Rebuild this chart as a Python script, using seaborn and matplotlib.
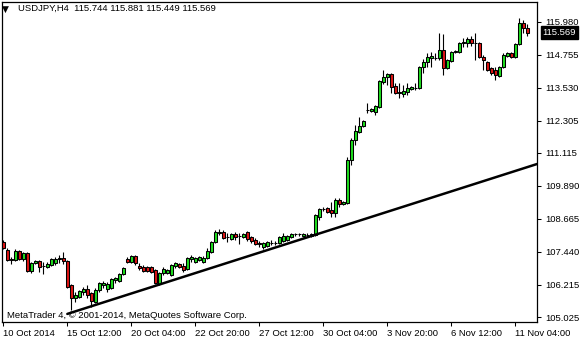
import numpy as np
import pandas as pd
import matplotlib
matplotlib.use("Agg")
import matplotlib.pyplot as plt
import seaborn as sns

symbol = "USDJPY,H4"
opens = [107.81,107.51,107.18,107.14,107.47,107.18,107.40,106.73,107.03,107.10,
         106.92,106.88,106.95,107.03,107.18,107.21,107.10,106.21,105.73,105.77,
         105.95,106.06,105.92,105.58,106.03,106.21,106.06,106.10,106.40,106.36,
         106.62,107.18,107.07,107.29,106.92,106.88,106.88,106.88,106.77,106.25,
         106.66,106.66,106.58,106.92,106.99,106.92,106.81,107.18,107.07,107.14,
         107.07,107.21,107.44,107.81,108.14,108.18,107.99,107.92,108.10,108.03,
         107.99,108.18,107.99,107.88,107.77,107.62,107.66,107.77,107.77,107.77,
         107.84,107.88,107.99,108.10,108.10,108.03,108.07,108.03,108.07,108.73,
         109.03,109.07,108.99,108.88,109.37,109.22,109.25,110.85,111.59,111.89,
         112.11,112.70,112.67,112.63,112.82,113.74,113.93,114.04,113.59,113.37,
         113.30,113.37,113.48,113.52,113.52,114.30,114.49,114.63,114.63,114.63,
         114.93,114.26,114.52,114.86,114.86,115.19,115.19,115.34,115.19,115.19,
         114.67,114.49,114.26,114.19,113.97,114.30,114.71,114.82,114.67,115.15,
         115.93,115.744]
highs = [107.88,107.58,107.25,107.55,107.51,107.44,107.44,107.07,107.14,107.14,
         107.07,107.07,107.21,107.25,107.33,107.44,107.14,106.25,105.95,106.03,
         106.14,106.21,105.95,106.10,106.32,106.36,106.32,106.47,106.51,106.66,
         106.88,107.25,107.33,107.33,107.03,106.95,106.92,106.92,106.81,106.69,
         106.88,106.81,106.99,107.07,107.03,107.03,107.25,107.33,107.25,107.29,
         107.29,107.58,107.84,108.25,108.29,108.25,108.14,108.14,108.18,108.14,
         108.14,108.21,108.03,107.96,107.84,107.81,107.84,107.88,107.84,108.03,
         108.14,108.07,108.14,108.14,108.14,108.14,108.14,108.14,108.85,109.07,
         109.11,109.11,109.29,109.44,109.44,109.33,110.96,111.67,112.15,112.44,
         112.33,112.96,112.78,112.89,113.82,114.19,114.08,114.08,113.71,113.71,
         113.63,113.71,113.59,113.71,114.34,114.60,114.82,114.86,114.82,115.56,
         115.52,114.60,114.89,114.93,115.23,115.38,115.41,115.45,115.56,115.23,
         114.75,114.52,114.30,114.30,114.34,114.82,114.86,114.86,115.19,116.12,
         116.04,115.881]
lows = [107.55,107.10,106.99,107.10,107.14,107.10,106.69,106.66,106.99,106.69,
        106.62,106.84,106.92,106.95,107.03,106.99,106.10,105.28,105.58,105.73,
        105.84,105.73,105.40,105.54,105.95,106.10,105.95,106.06,106.29,106.32,
        106.58,107.03,107.03,106.95,106.77,106.69,106.69,106.66,106.25,106.21,
        106.58,106.62,106.55,106.84,106.84,106.69,106.77,107.07,107.03,107.10,
        107.03,107.18,107.40,107.77,108.07,107.92,107.81,107.88,107.88,107.73,
        107.96,107.84,107.77,107.70,107.62,107.55,107.62,107.70,107.70,107.73,
        107.81,107.84,107.96,108.03,108.03,107.99,107.99,107.99,108.03,108.62,
        108.96,108.88,108.73,108.73,109.11,109.18,109.22,110.66,111.41,111.85,
        112.07,112.59,112.63,112.52,112.78,113.67,113.63,113.34,113.30,113.15,
        113.19,113.26,113.45,113.45,113.48,114.08,114.30,114.30,114.56,114.56,
        114.00,114.23,114.49,114.82,114.82,115.04,115.04,115.08,114.56,114.63,
        114.19,114.15,114.00,113.82,113.93,114.26,114.67,114.63,114.63,115.12,
        115.56,115.449]
closes = [107.58,107.14,107.14,107.47,107.18,107.40,106.73,107.03,107.10,106.88,
          106.92,106.99,107.18,107.18,107.21,107.10,106.14,105.73,105.84,105.99,
          106.06,105.84,105.62,106.03,106.29,106.29,106.25,106.43,106.47,106.62,
          106.84,107.07,107.29,107.03,106.84,106.73,106.73,106.69,106.29,106.66,
          106.81,106.77,106.95,107.03,106.88,106.77,107.21,107.25,107.21,107.25,
          107.21,107.47,107.81,108.18,108.18,107.96,107.99,108.10,107.99,108.03,
          108.10,107.92,107.84,107.73,107.73,107.77,107.81,107.77,107.77,107.99,
          108.03,108.03,108.10,108.10,108.10,108.10,108.07,108.10,108.81,109.03,
          109.03,108.92,108.88,109.37,109.22,109.29,110.85,111.59,111.93,112.11,
          112.30,112.70,112.74,112.85,113.78,113.93,114.04,113.56,113.34,113.34,
          113.41,113.52,113.56,113.52,114.30,114.49,114.67,114.71,114.63,114.93,
          114.26,114.56,114.86,114.89,115.19,115.23,115.34,115.19,115.19,114.67,
          114.56,114.19,114.08,114.00,114.30,114.75,114.82,114.67,115.15,115.93,
          115.75,115.569]

tick_bars = [0, 16, 32, 48, 64, 80, 96, 112, 128]
tick_labels = ["10 Oct 2014", "15 Oct 12:00", "20 Oct 04:00", "22 Oct 20:00",
               "27 Oct 12:00", "30 Oct 04:00", "3 Nov 20:00", "6 Nov 12:00",
               "11 Nov 04:00"]
price_ticks = [115.980, 114.755, 113.530, 112.305, 111.115, 109.890,
               108.665, 107.440, 106.215, 105.025]
trend_bars = [16, 133.4]
trend_prices = [105.14, 110.70]

sns.set_style("white")
plt.rcParams['font.family'] = ['Liberation Sans', 'DejaVu Sans']
plt.rcParams['text.color'] = 'black'

GREEN = '#1fdc1f'
RED = '#dc1414'
FS = 6.8

df = pd.DataFrame(dict(bar=np.arange(len(opens)), open=opens, high=highs,
                       low=lows, close=closes))

fig = plt.figure(figsize=(5.8, 3.4), dpi=100)
ax = fig.add_axes([2/580, 18/340, 535/580, 320/340])

ax.vlines(df.bar, df.low, df.high, color='black', lw=0.8, zorder=2)
body_h = (df.close - df.open).abs().clip(lower=0.004)
bottoms = df[['open', 'close']].min(axis=1)
colors = np.where(df.close > df.open, GREEN,
                  np.where(df.close < df.open, RED, 'black'))
ax.bar(df.bar, body_h, bottom=bottoms, width=0.78, color=colors,
       edgecolor='black', linewidth=0.75, zorder=3)

sns.lineplot(x=trend_bars, y=trend_prices, color='black', lw=1.8, ax=ax,
             zorder=4)

ax.set_xlim(-0.33, 133.4)
ax.set_ylim(104.84, 116.71)
ax.yaxis.tick_right()
ax.set_yticks(price_ticks)
ax.set_yticklabels([f"{v:.3f}" for v in price_ticks])
ax.set_xticks(tick_bars)
ax.set_xticklabels(tick_labels, ha='left')
ax.tick_params(axis='y', direction='out', length=3, width=0.75, pad=3,
               labelsize=FS, right=True, left=False, colors='black')
ax.tick_params(axis='x', direction='out', length=3, width=0.75, pad=2,
               labelsize=FS, bottom=True, colors='black')
for s in ax.spines.values():
    s.set_color('black')
    s.set_linewidth(0.9)
ax.set_xlabel('')
ax.set_ylabel('')

ax.annotate(f"{closes[-1]:.3f}", xy=(1, closes[-1]),
            xycoords=('axes fraction', 'data'), xytext=(4, 0),
            textcoords='offset points', ha='left', va='center',
            color='white', fontsize=FS,
            bbox=dict(boxstyle='square,pad=0.2', fc='black', ec='black'))

fig.text(5.5/580, 1 - 9/340, "▼", fontsize=6.5, ha='center', va='center',
         family=['DejaVu Sans'])
fig.text(18/580, 1 - 8.5/340,
         f"{symbol}  {opens[-1]:.3f} {highs[-1]:.3f} {lows[-1]:.3f} {closes[-1]:.3f}",
         fontsize=FS, ha='left', va='center')
fig.text(7/580, 1 - 315/340,
         "MetaTrader 4, © 2001-2014, MetaQuotes Software Corp.",
         fontsize=FS, ha='left', va='center')

fig.savefig("out.png", dpi=100)
